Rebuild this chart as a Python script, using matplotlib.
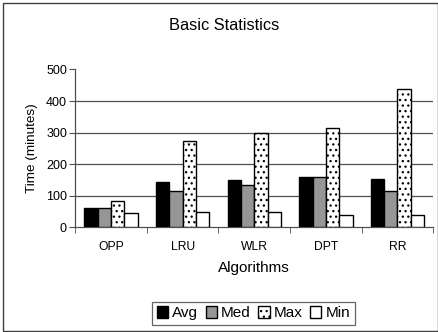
import matplotlib
matplotlib.use("Agg")
import matplotlib.pyplot as plt
import numpy as np
from matplotlib.patches import Rectangle

plt.rcParams['font.family'] = ['Liberation Sans', 'DejaVu Sans']
plt.rcParams['hatch.linewidth'] = 0.9
plt.rcParams['hatch.color'] = '#202020'

categories = ["OPP", "LRU", "WLR", "DPT", "RR"]
series_names = ["Avg", "Med", "Max", "Min"]
avg_vals = [59, 142, 149, 160, 152]
med_vals = [59, 115, 135, 160, 115]
max_vals = [82, 273, 298, 313, 437]
min_vals = [45, 49, 49, 37, 37]
yticks = [0, 100, 200, 300, 400, 500]

fig = plt.figure(figsize=(4.39, 3.32), dpi=100)
ax = fig.add_axes([0.1715, 0.316, 0.987 - 0.1715, 0.7907 - 0.316])

x = np.arange(len(categories))
w = 0.186
styles = [
    dict(facecolor="black", hatch=None),
    dict(facecolor="#969696", hatch=None),
    dict(facecolor="white", hatch="..."),
    dict(facecolor="white", hatch=None),
]
all_vals = [avg_vals, med_vals, max_vals, min_vals]
handles = []
for i, (vals, st, name) in enumerate(zip(all_vals, styles, series_names)):
    b = ax.bar(x + (i - 1.5) * w, vals, width=w, facecolor=st["facecolor"],
               edgecolor="black", linewidth=1.0, hatch=st["hatch"], label=name,
               zorder=3)
    handles.append(b)

ax.set_xlim(-0.5, len(categories) - 0.5)
ax.set_ylim(0, 500)
ax.set_yticks(yticks)
ax.set_yticklabels([str(t) for t in yticks], fontsize=9)
for t in yticks[1:-1]:
    ax.axhline(t, color="#505050", linewidth=0.9, zorder=1)

ax.set_xticks(x)
ax.set_xticklabels(categories, fontsize=8.7)
ax.tick_params(axis='x', which='major', length=0, pad=10)
ax.set_xticks(np.arange(len(categories) + 1) - 0.5, minor=True)
ax.tick_params(axis='x', which='minor', length=4, direction='out', color="#505050")
ax.tick_params(axis='y', length=4, direction='out', color="#505050", pad=2)

for s in ["top", "right"]:
    ax.spines[s].set_visible(False)
for s in ["left", "bottom"]:
    ax.spines[s].set_color("#505050")
    ax.spines[s].set_linewidth(0.9)

ax.set_ylabel("Time (minutes)", fontsize=9.7, labelpad=6)
ax.set_xlabel("Algorithms", fontsize=11, labelpad=6)
fig.text(0.510, 0.922, "Basic Statistics", fontsize=11.8, ha="center", va="center")

leg = fig.legend(handles=handles, labels=series_names, loc="center",
                 bbox_to_anchor=(0.577, 0.056), ncol=4, fontsize=11,
                 frameon=True, fancybox=False, handlelength=0.75,
                 handleheight=0.75, handletextpad=0.25, columnspacing=0.5,
                 borderpad=0.3, borderaxespad=0)
leg.get_frame().set_edgecolor("#404040")
leg.get_frame().set_linewidth(0.9)

fig.patches.append(Rectangle((0.007, 0.003), 0.99, 0.988, transform=fig.transFigure,
                             fill=False, edgecolor="#404040", linewidth=1.0))

fig.savefig("out.png", dpi=100)
